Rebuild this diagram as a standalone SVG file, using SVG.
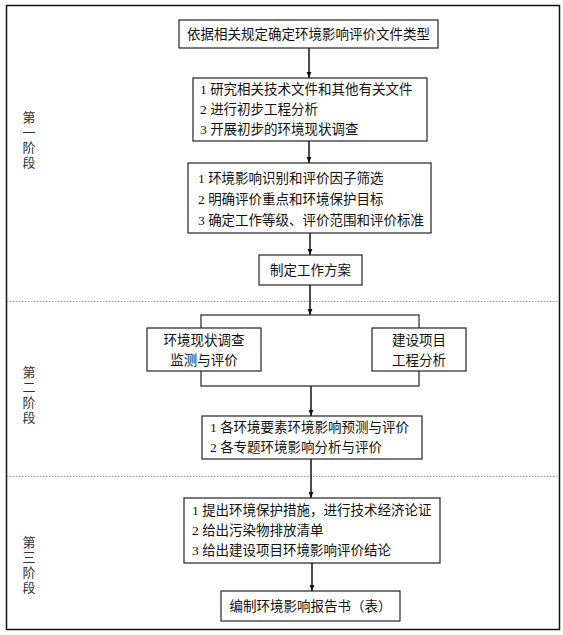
<svg xmlns="http://www.w3.org/2000/svg" width="563" height="635" viewBox="0 0 563 635">
<style>
.box{fill:#fff;stroke:#222;stroke-width:1.2}
.t{font-family:"Liberation Serif","Noto Sans CJK SC",serif;font-size:13.5px;fill:#111}
.c{text-anchor:middle}
.lbl{font-family:"Liberation Serif","Noto Sans CJK SC",serif;font-size:13px;fill:#333;text-anchor:middle}
.conn{stroke:#111;stroke-width:1.5;fill:none;marker-end:url(#ah)}
.dot{stroke:#999;stroke-width:1;stroke-dasharray:1.5 1.5}
</style>
<defs>
<marker id="ah" viewBox="0 0 10 10" refX="10" refY="5" markerWidth="6" markerHeight="6" orient="auto" markerUnits="userSpaceOnUse">
<path d="M0,1 L10,5 L0,9 Z" fill="#111"/>
</marker>
</defs>
<rect width="563" height="635" fill="#fff"/>
<rect x="6.5" y="5.5" width="553" height="624" fill="none" stroke="#111" stroke-width="1.5"/>
<g id="dividers">
<line class="dot" x1="7" y1="301.5" x2="559" y2="301.5"/>
<line class="dot" x1="7" y1="476.5" x2="559" y2="476.5"/>
</g>
<g id="stage-labels">
<text class="lbl" x="29"><tspan x="29" y="122">第</tspan><tspan x="29" y="137">一</tspan><tspan x="29" y="152">阶</tspan><tspan x="29" y="167">段</tspan></text>
<text class="lbl" x="29"><tspan x="29" y="377">第</tspan><tspan x="29" y="392">二</tspan><tspan x="29" y="407">阶</tspan><tspan x="29" y="422">段</tspan></text>
<text class="lbl" x="29"><tspan x="29" y="547">第</tspan><tspan x="29" y="562">三</tspan><tspan x="29" y="577">阶</tspan><tspan x="29" y="592">段</tspan></text>
</g>
<g id="connectors">
<line class="conn" x1="309" y1="48" x2="309" y2="78"/>
<line class="conn" x1="309" y1="141" x2="309" y2="163"/>
<line class="conn" x1="310" y1="233" x2="310" y2="255"/>
<line class="conn" x1="310" y1="285" x2="310" y2="315"/>
<line class="conn" x1="311" y1="386" x2="311" y2="416"/>
<line class="conn" x1="311" y1="459" x2="311" y2="498"/>
<line class="conn" x1="312" y1="563" x2="312" y2="591"/>
</g>
<g id="n1">
<rect class="box" x="179" y="20" width="259" height="28"/>
<text class="t c" x="308.5" y="39">依据相关规定确定环境影响评价文件类型</text>
</g>
<g id="n2">
<rect class="box" x="193" y="78" width="234" height="63"/>
<text class="t" x="200" y="94">1 研究相关技术文件和其他有关文件</text>
<text class="t" x="200" y="114">2 进行初步工程分析</text>
<text class="t" x="200" y="134">3 开展初步的环境现状调查</text>
</g>
<g id="n3">
<rect class="box" x="188" y="163" width="243" height="70"/>
<text class="t" x="198" y="183">1 环境影响识别和评价因子筛选</text>
<text class="t" x="198" y="204">2 明确评价重点和环境保护目标</text>
<text class="t" x="198" y="225">3 确定工作等级、评价范围和评价标准</text>
</g>
<g id="n4">
<rect class="box" x="259" y="255" width="103" height="30"/>
<text class="t c" x="310.5" y="275">制定工作方案</text>
</g>
<g id="n5">
<rect class="box" x="201" y="315" width="218" height="71"/>
</g>
<g id="n6">
<rect class="box" x="147" y="328" width="114" height="43"/>
<text class="t c" x="204" y="345">环境现状调查</text>
<text class="t c" x="204" y="365">监测与评价</text>
</g>
<g id="n7">
<rect class="box" x="372" y="328" width="94" height="43"/>
<text class="t c" x="419" y="345">建设项目</text>
<text class="t c" x="419" y="365">工程分析</text>
</g>
<g id="n8">
<rect class="box" x="202" y="416" width="220" height="43"/>
<text class="t" x="210" y="432">1 各环境要素环境影响预测与评价</text>
<text class="t" x="210" y="452">2 各专题环境影响分析与评价</text>
</g>
<g id="n9">
<rect class="box" x="184" y="498" width="256" height="65"/>
<text class="t" x="192" y="515">1 提出环境保护措施，进行技术经济论证</text>
<text class="t" x="192" y="535">2 给出污染物排放清单</text>
<text class="t" x="192" y="555">3 给出建设项目环境影响评价结论</text>
</g>
<g id="n10">
<rect class="box" x="221" y="591" width="179" height="30"/>
<text class="t c" x="310.5" y="611">编制环境影响报告书（表）</text>
</g>
</svg>
